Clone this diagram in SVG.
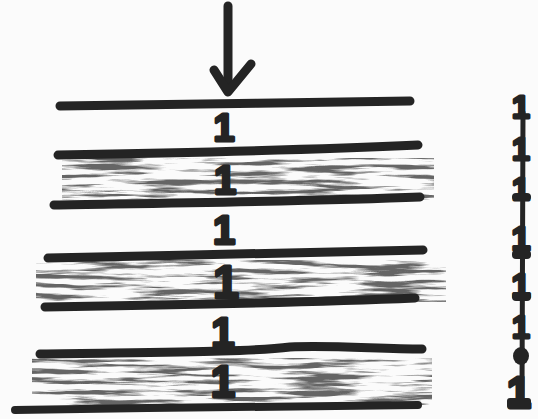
<svg xmlns="http://www.w3.org/2000/svg" width="538" height="419" viewBox="0 0 538 419">
  <defs>
    <filter id="streak" x="0" y="0" width="100%" height="100%" filterUnits="objectBoundingBox">
      <feTurbulence type="fractalNoise" baseFrequency="0.014 0.2" numOctaves="4" seed="11" result="n"/>
      <feColorMatrix in="n" type="matrix" values="0 0 0 0 0.13  0 0 0 0 0.13  0 0 0 0 0.13  5.2 0 0 0 -2.4" result="c"/>
      <feComposite in="c" in2="SourceAlpha" operator="in"/>
    </filter>
  </defs>
  <style>
    .ln { fill: none; stroke: #242424; stroke-width: 9; stroke-linecap: round; stroke-linejoin: round; }
    .one { font-family: "Liberation Sans", Arial, sans-serif; font-weight: bold; fill: #242424; stroke: #242424; stroke-width: 3; stroke-linejoin: round; text-anchor: middle; }
    .shade { fill: #000; filter: url(#streak); }
  </style>
  <rect width="538" height="419" fill="#fbfbfb"/>

  <g id="shading">
    <rect class="shade" x="62" y="158" width="372" height="42"/>
    <rect class="shade" x="36" y="260" width="410" height="42"/>
    <rect class="shade" x="32" y="358" width="400" height="47"/>
  </g>

  <g id="layer-lines">
    <path class="ln" d="M60,106 C160,104 300,103 410,101"/>
    <path class="ln" d="M58,155 C170,153 310,150 418,145"/>
    <path class="ln" d="M54,205 C170,203 320,201 420,197"/>
    <path class="ln" d="M48,258 C170,255 320,253 423,250"/>
    <path class="ln" d="M45,307 C170,305 320,302 415,298"/>
    <path class="ln" d="M40,354 C160,352 250,352 290,347 C330,345 380,349 422,349"/>
    <path class="ln" d="M15,410 C150,408 300,406 418,405" style="stroke-width:8"/>
  </g>

  <g id="connectors">
    <path class="ln" d="M228,6 L228,90"/>
    <path class="ln" d="M214,70 L228,92 L251,64"/>
  </g>

  <g id="labels">
    <text class="one" x="224" y="141" font-size="38">1</text>
    <text class="one" x="225" y="194" font-size="40">1</text>
    <text class="one" x="224" y="244" font-size="40">1</text>
    <text class="one" x="226" y="298" font-size="46">1</text>
    <text class="one" x="223" y="347" font-size="42">1</text>
    <text class="one" x="223" y="397" font-size="44">1</text>
  </g>

  <g id="scale">
    <path class="ln" d="M523,112 L522,400" style="stroke-width:5"/>
    <text class="one" x="521" y="118" font-size="32">1</text>
    <text class="one" x="521" y="160" font-size="32">1</text>
    <text class="one" x="521" y="200" font-size="32">1</text>
    <text class="one" x="521" y="250" font-size="34">1</text>
    <text class="one" x="521" y="297" font-size="34">1</text>
    <text class="one" x="521" y="338" font-size="32">1</text>
    <ellipse cx="521" cy="356" rx="8" ry="9" fill="#242424"/>
    <text class="one" x="519" y="408" font-size="44">1</text>
    <rect x="507" y="398" width="24" height="11" rx="3" fill="#242424"/>
    <rect x="512" y="193" width="19" height="8" rx="4" fill="#242424"/>
    <rect x="512" y="250" width="19" height="9" rx="4" fill="#242424"/>
    <rect x="512" y="292" width="19" height="9" rx="4" fill="#242424"/>
  </g>
</svg>
